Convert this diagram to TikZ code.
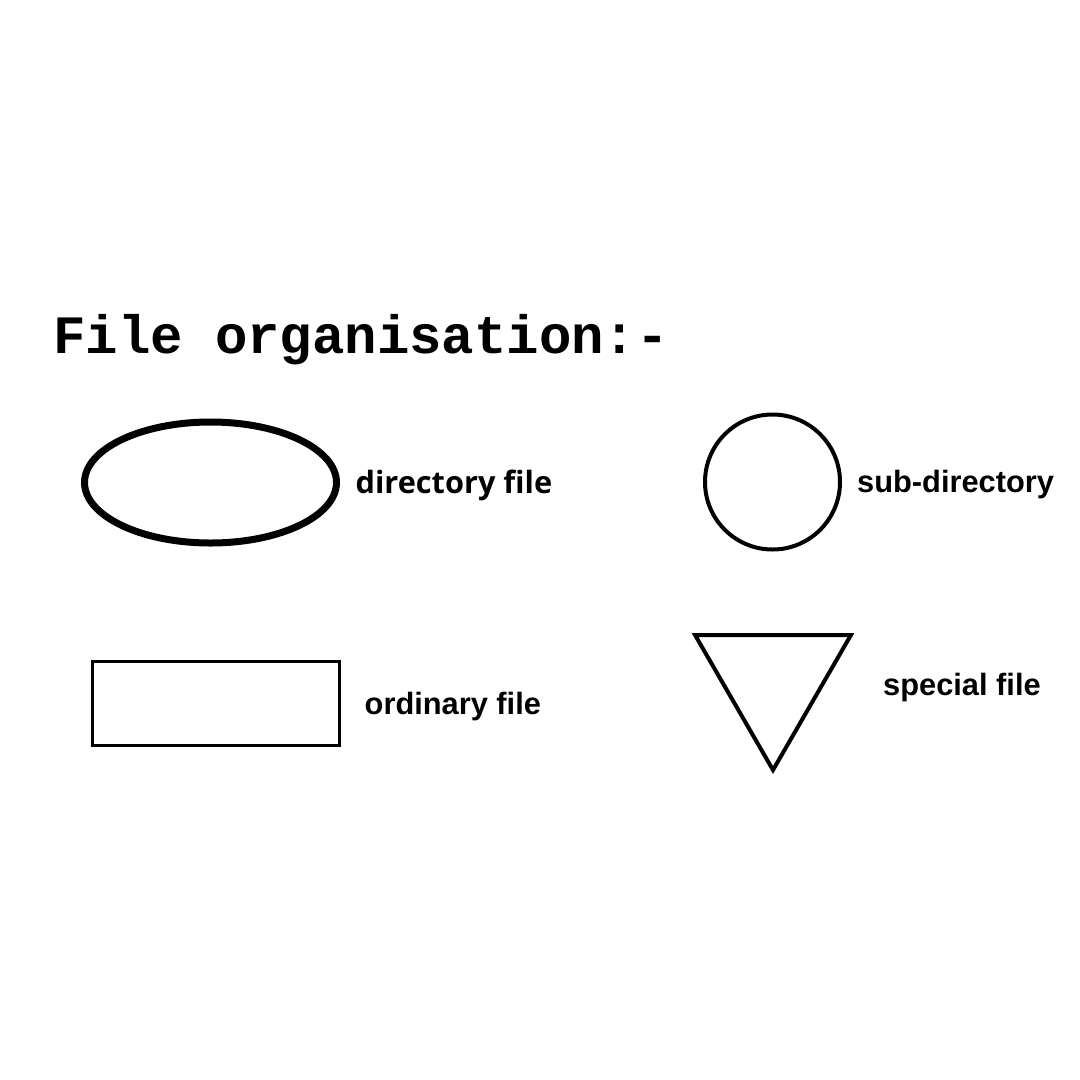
\documentclass[tikz,border=0pt]{standalone}
\usepackage{fontspec}
\setmainfont{Liberation Sans}
\newfontfamily\titlefont{Liberation Mono}
\newfontfamily\dirfont{Open Sans}
\usetikzlibrary{positioning,shapes.geometric}

\begin{document}
\begin{tikzpicture}
[x=1pt, y=-1pt,
% STYLES
% The symbol style is used for the shapes of the legend
symbol/.style={draw, fill=white, inner sep=0pt, outer sep=0pt},
% The legend style is used to write what each shape stands for
legend/.style={inner sep=0pt, yshift=-3pt, font=\bfseries\fontsize{30.8}{36}\selectfont}]

\useasboundingbox (0,0) rectangle (1080,1080);

% Title
\node [anchor=base west, inner sep=0pt, font=\titlefont\bfseries\fontsize{54}{60}\selectfont] (title) at (53,353) {File organisation:-};

% Draw symbols
\node [symbol, ellipse, line width=7pt, minimum width=252pt, minimum height=121pt] (directory) at (210.5,482.5) {};
\node [symbol, circle, line width=4pt, minimum size=135pt] (subdir) at (772.5,482) {};
\node [symbol, rectangle, line width=3pt, minimum width=247pt, minimum height=84pt] (ordinary) at (216,703.5) {};
\node [symbol, regular polygon, regular polygon sides=3, shape border rotate=180, line width=4pt, minimum size=180pt] (special) at (773,680) {};

% Draw legends
\node [legend, font=\dirfont\bfseries\fontsize{30.7}{36}\selectfont, right=19pt of directory] (dirtext) {directory file};
\node [legend, right=17pt of subdir] (subdirtext) {sub-directory};
\node [legend, right=25pt of ordinary] (ordtext) {ordinary file};
\node [legend, anchor=west] (spectext) at (883,685) {special file};

\end{tikzpicture}
\end{document}
